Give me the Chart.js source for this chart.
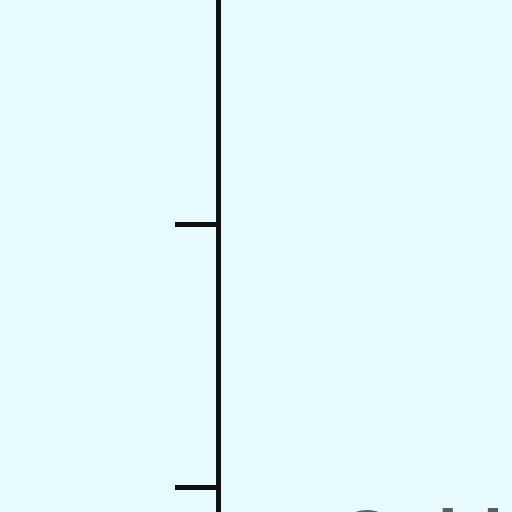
<!DOCTYPE html>
<html>
<head>
<meta charset="utf-8">
<script src="https://cdn.jsdelivr.net/npm/chart.js@4/dist/chart.umd.min.js"></script>
<style>
  html, body { margin: 0; padding: 0; width: 512px; height: 512px; overflow: hidden; background: #e6faff; }
  /* the picture is a close crop of a larger chart, so the canvas is bigger than the window */
  #wrap { position: absolute; left: 0; top: -400px; }
</style>
</head>
<body>
<div id="wrap"><canvas id="chart" width="1462" height="1007"></canvas></div>
<script>
// ── data ──────────────────────────────────────────────
const categories = ['Cold', 'Mild', 'Warm'];
const seriesValues = [2.6, 2.4, 2.7];   // lies above the cropped view
const yTicks = [0, 1, 2, 3];

const AXIS = '#111111';
const TEXT = '#5e5e5e';

new Chart(document.getElementById('chart'), {
  type: 'line',
  data: {
    labels: categories,
    datasets: [{
      data: seriesValues,
      borderColor: '#36a2eb',
      backgroundColor: '#36a2eb',
      borderWidth: 10,
      pointRadius: 16,
    }],
  },
  options: {
    responsive: false,
    animation: false,
    layout: { padding: { top: 98, right: 20, left: 0, bottom: 0 } },
    plugins: { legend: { display: false }, tooltip: { enabled: false } },
    scales: {
      x: {
        offset: true,
        grid: { offset: true, drawOnChartArea: false, color: AXIS, lineWidth: 5, tickLength: 43 },
        border: { display: false },
        ticks: { padding: -33, color: TEXT, font: { family: 'Liberation Sans', size: 74, weight: 'bold' } },
        afterFit: s => { s.height = 120; },
      },
      y: {
        min: yTicks[0],
        max: yTicks[yTicks.length - 1],
        ticks: { stepSize: 1, display: false },
        grid: { drawOnChartArea: false, color: AXIS, lineWidth: 5, tickLength: 43 },
        border: { color: AXIS, width: 5 },
        afterFit: s => { s.width = 218; },
      },
    },
  },
});
</script>
</body>
</html>
